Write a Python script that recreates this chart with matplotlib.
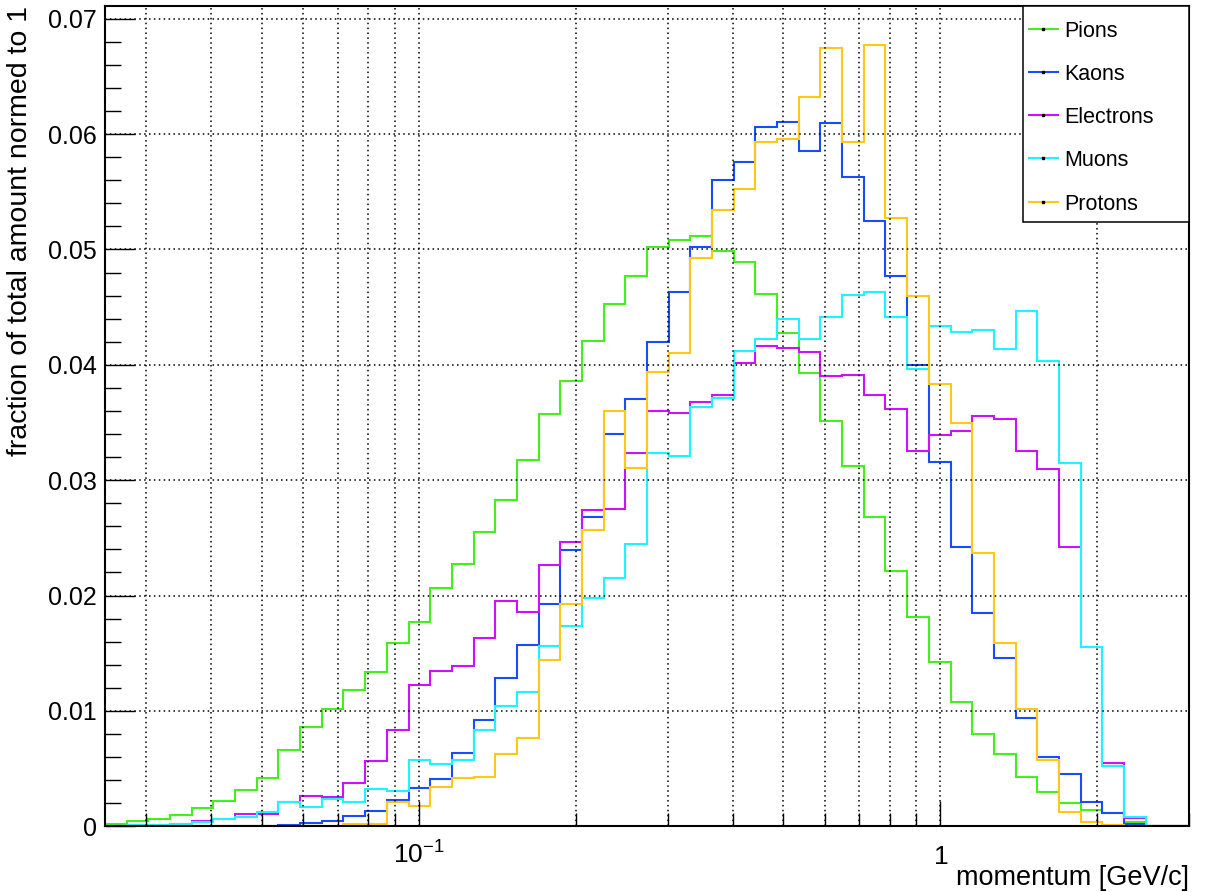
import numpy as np
import matplotlib
matplotlib.use("Agg")
import matplotlib.pyplot as plt
from matplotlib.ticker import FixedLocator, FixedFormatter, MultipleLocator, FuncFormatter, NullFormatter
from matplotlib.patches import Rectangle
from matplotlib.lines import Line2D

# ---------------- data ----------------
x_min, x_max, n_bins = 0.025, 3.0, 50

pions = [0.00023, 0.00049, 0.00066, 0.00098, 0.00159, 0.00222, 0.00315, 0.00421, 0.00664, 0.00863,
         0.01016, 0.01178, 0.01337, 0.01591, 0.01768, 0.02062, 0.02273, 0.02550, 0.02830, 0.03174,
         0.03570, 0.03860, 0.04208, 0.04523, 0.04769, 0.05017, 0.05083, 0.05120, 0.04990, 0.04890,
         0.04615, 0.04280, 0.03930, 0.03510, 0.03120, 0.02678, 0.02210, 0.01810, 0.01426, 0.01080,
         0.00797, 0.00627, 0.00430, 0.00300, 0.00205, 0.00139, 0.00113, 0.00040, 0.00005, 0.0]

kaons = [0.0, 0.0, 0.0, 0.00001, 0.00002, 0.00003, 0.00004, 0.00005, 0.00010, 0.00026,
         0.00049, 0.00092, 0.00135, 0.00225, 0.00332, 0.00407, 0.00633, 0.00924, 0.01288, 0.01571,
         0.01929, 0.02397, 0.02678, 0.03397, 0.03700, 0.04197, 0.04633, 0.05020, 0.05600, 0.05760,
         0.06057, 0.06103, 0.05850, 0.06097, 0.05630, 0.05250, 0.04766, 0.03997, 0.03160, 0.02423,
         0.01850, 0.01456, 0.00936, 0.00603, 0.00450, 0.00213, 0.00113, 0.00017, 0.00002, 0.0]

electrons = [0.00005, 0.00010, 0.00014, 0.00020, 0.00045, 0.00060, 0.00104, 0.00104, 0.00213, 0.00265,
             0.00254, 0.00375, 0.00563, 0.00837, 0.01224, 0.01349, 0.01392, 0.01632, 0.01952, 0.01860,
             0.02267, 0.02460, 0.02738, 0.02747, 0.03237, 0.03599, 0.03579, 0.03680, 0.03737, 0.04012,
             0.04165, 0.04147, 0.04107, 0.03905, 0.03913, 0.03737, 0.03619, 0.03250, 0.03393, 0.03428,
             0.03558, 0.03527, 0.03250, 0.03099, 0.02420, 0.01550, 0.00546, 0.00069, 0.00005, 0.0]

muons = [0.00005, 0.00010, 0.00015, 0.00020, 0.00040, 0.00060, 0.00083, 0.00121, 0.00213, 0.00170,
         0.00237, 0.00208, 0.00320, 0.00308, 0.00572, 0.00543, 0.00572, 0.00832, 0.01045, 0.01161,
         0.01562, 0.01733, 0.01976, 0.02152, 0.02444, 0.03232, 0.03209, 0.03636, 0.03714, 0.04121,
         0.04220, 0.04396, 0.04220, 0.04413, 0.04607, 0.04627, 0.04413, 0.03965, 0.04333, 0.04286,
         0.04300, 0.04139, 0.04463, 0.04032, 0.03146, 0.01556, 0.00525, 0.00083, 0.00003, 0.00003]

protons = [0.0, 0.0, 0.0, 0.0, 0.0, 0.0, 0.0, 0.0, 0.0, 0.0,
           0.0, 0.00020, 0.00020, 0.00213, 0.00179, 0.00338, 0.00416, 0.00430, 0.00624, 0.00765,
           0.01444, 0.01924, 0.02565, 0.03599, 0.03102, 0.03939, 0.04099, 0.04922, 0.05343, 0.05523,
           0.05932, 0.05953, 0.06322, 0.06750, 0.05930, 0.06770, 0.05274, 0.04598, 0.03830, 0.03492,
           0.02371, 0.01586, 0.01014, 0.00575, 0.00121, 0.00035, 0.00015, 0.0, 0.0, 0.0]

series_names = ["Pions", "Kaons", "Electrons", "Muons", "Protons"]
series_values = [pions, kaons, electrons, muons, protons]
series_colors = ["#44f01c", "#1a4cff", "#cc11ff", "#1cf4ff", "#ffc814"]

y_major = [0.0, 0.01, 0.02, 0.03, 0.04, 0.05, 0.06, 0.07]
x_major = [0.1, 1.0]
x_major_labels = [r"$\mathdefault{10^{-1}}$", r"$\mathdefault{1}$"]
x_minor = [0.03, 0.04, 0.05, 0.06, 0.07, 0.08, 0.09,
           0.2, 0.3, 0.4, 0.5, 0.6, 0.7, 0.8, 0.9, 2.0, 3.0]

# ---------------- style ----------------
plt.rcParams["font.family"] = ["Liberation Sans", "DejaVu Sans"]
plt.rcParams["mathtext.fontset"] = "custom"
plt.rcParams["mathtext.rm"] = "Liberation Sans"
plt.rcParams["mathtext.it"] = "Liberation Sans:italic"
plt.rcParams["mathtext.bf"] = "Liberation Sans:bold"

fig = plt.figure(figsize=(12.1, 8.92), dpi=100)
ax = fig.add_axes([0.08678, 0.07365, 0.89587, 0.91962])

edges = np.logspace(np.log10(x_min), np.log10(x_max), n_bins + 1)

for name, vals, col in zip(series_names, series_values, series_colors):
    ax.stairs(vals, edges, color=col, lw=1.5, label=name)

ax.set_xscale("log")
ax.set_xlim(x_min, x_max)
ax.set_ylim(0, 0.0711)

# x ticks
ax.xaxis.set_major_locator(FixedLocator(x_major))
ax.xaxis.set_major_formatter(FixedFormatter(x_major_labels))
ax.xaxis.set_minor_locator(FixedLocator(x_minor))
ax.xaxis.set_minor_formatter(NullFormatter())

# y ticks
ax.yaxis.set_major_locator(FixedLocator(y_major))
ax.yaxis.set_major_formatter(FuncFormatter(lambda v, p: "0" if abs(v) < 1e-12 else f"{v:.2f}"))
ax.yaxis.set_minor_locator(MultipleLocator(0.002))

ax.tick_params(axis="x", which="major", direction="in", length=18, width=1.0,
               labelsize=19, pad=27, top=False)
ax.tick_params(axis="x", which="minor", direction="in", length=9.4, width=1.0, top=False)
ax.tick_params(axis="y", which="major", direction="in", length=21.5, width=1.0,
               labelsize=18, pad=6, right=False)
ax.tick_params(axis="y", which="minor", direction="in", length=11.5, width=1.0, right=False)
for lab in ax.xaxis.get_majorticklabels():
    lab.set_verticalalignment("baseline")

for sp in ax.spines.values():
    sp.set_linewidth(1.5)
    sp.set_color("black")

# grid
grid_kw = dict(color="black", linestyle=(0, (1, 2.2)), linewidth=1.1)
ax.grid(True, which="major", axis="both", **grid_kw)
ax.grid(True, which="minor", axis="x", **grid_kw)
ax.set_axisbelow(False)

# axis titles
ax.set_xlabel("momentum [GeV/c]", fontsize=19.5, loc="right")
ax.xaxis.set_label_coords(1.0, -0.0475)
ax.xaxis.label.set_verticalalignment("top")
ax.set_ylabel("fraction of total amount normed to 1", fontsize=20.5, loc="top")
ax.yaxis.set_label_coords(-0.0664, 1.0)

# legend (ROOT-like box)
box_x0, box_y0 = 0.8466, 0.7370
ax.add_patch(Rectangle((box_x0, box_y0), 1.0 - box_x0, 1.0 - box_y0, transform=ax.transAxes,
                       facecolor="white", edgecolor="black", lw=1.1, zorder=10, clip_on=False))
row_y = [0.9716, 0.9199, 0.8671, 0.8143, 0.7614]
for name, col, yy in zip(series_names, series_colors, row_y):
    ax.add_line(Line2D([0.8524, 0.8789], [yy, yy], transform=ax.transAxes, color=col,
                       lw=1.5, zorder=11, clip_on=False))
    ax.add_line(Line2D([0.8656], [yy], transform=ax.transAxes, marker="s", markersize=1.6,
                       markerfacecolor="black", markeredgecolor="black", lw=0, zorder=12,
                       clip_on=False))
    ax.text(0.8847, yy, name, transform=ax.transAxes, fontsize=15.5, va="center_baseline",
            ha="left", zorder=12)

fig.savefig("out.png", dpi=100)
